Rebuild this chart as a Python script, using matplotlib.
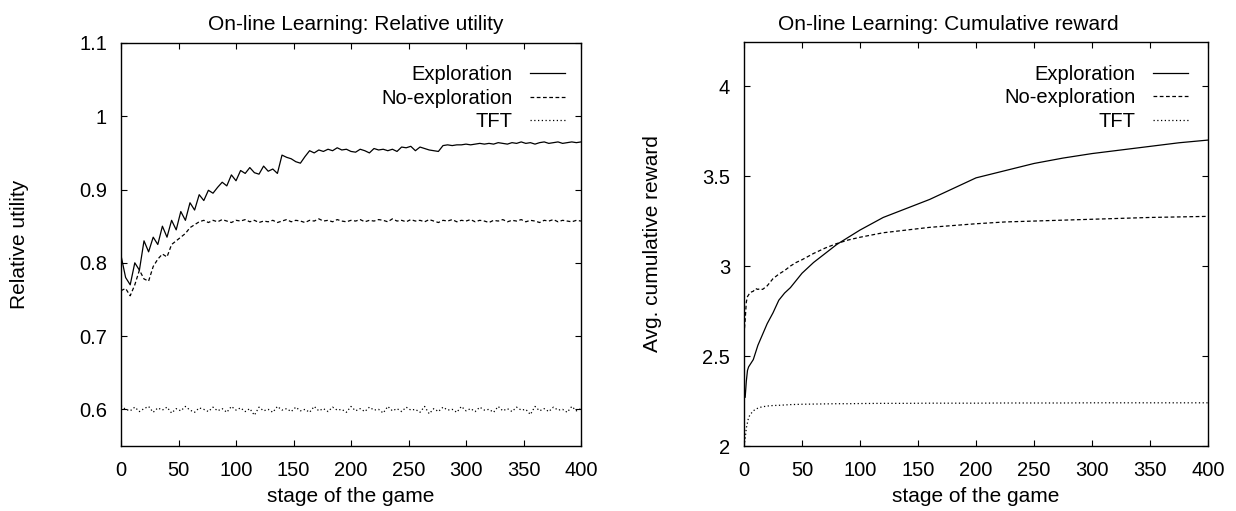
import numpy as np
import matplotlib
matplotlib.use("Agg")
import matplotlib.pyplot as plt

plt.rcParams['font.family'] = ['Liberation Sans', 'DejaVu Sans']

# ---- left panel: relative utility, one value every 4 stages ----
stage_left = np.arange(0, 401, 4)

util_exploration = [
    0.810, 0.780, 0.770, 0.800, 0.790, 0.830, 0.815, 0.835, 0.825, 0.850,
    0.835, 0.858, 0.845, 0.870, 0.858, 0.882, 0.872, 0.893, 0.885, 0.899,
    0.895, 0.903, 0.910, 0.905, 0.920, 0.912, 0.926, 0.922, 0.930, 0.923,
    0.921, 0.932, 0.925, 0.928, 0.922, 0.947, 0.944, 0.942, 0.938, 0.936,
    0.945, 0.953, 0.950, 0.954, 0.952, 0.955, 0.953, 0.957, 0.954, 0.955,
    0.952, 0.951, 0.955, 0.953, 0.950, 0.956, 0.954, 0.955, 0.953, 0.955,
    0.952, 0.958, 0.957, 0.959, 0.953, 0.958, 0.956, 0.954, 0.953, 0.952,
    0.960, 0.961, 0.960, 0.961, 0.961, 0.962, 0.961, 0.962, 0.963, 0.962,
    0.963, 0.962, 0.964, 0.963, 0.962, 0.964, 0.963, 0.965, 0.963, 0.964,
    0.962, 0.964, 0.965, 0.963, 0.964, 0.965, 0.963, 0.964, 0.965, 0.964,
    0.965,
]

util_no_exploration = [
    0.762, 0.765, 0.755, 0.770, 0.790, 0.778, 0.775, 0.795, 0.805, 0.812,
    0.808, 0.825, 0.830, 0.835, 0.840, 0.848, 0.852, 0.856, 0.858, 0.855,
    0.858, 0.856, 0.859, 0.857, 0.855, 0.858, 0.857, 0.859, 0.856, 0.858,
    0.855, 0.857, 0.856, 0.858, 0.855, 0.857, 0.859, 0.856, 0.858, 0.857,
    0.855, 0.858, 0.857, 0.860, 0.857, 0.858, 0.856, 0.859, 0.857, 0.856,
    0.858, 0.857, 0.859, 0.856, 0.858, 0.857, 0.859, 0.858, 0.856, 0.860,
    0.857, 0.858, 0.856, 0.859, 0.857, 0.858, 0.856, 0.859, 0.857, 0.855,
    0.858, 0.857, 0.859, 0.856, 0.858, 0.857, 0.859, 0.856, 0.858, 0.857,
    0.855, 0.858, 0.857, 0.859, 0.856, 0.858, 0.857, 0.859, 0.856, 0.858,
    0.857, 0.855, 0.858, 0.857, 0.859, 0.856, 0.858, 0.857, 0.856, 0.858,
    0.857,
]

util_tft = [
    0.605, 0.600, 0.598, 0.603, 0.597, 0.601, 0.604, 0.596, 0.602, 0.599,
    0.603, 0.595, 0.601, 0.598, 0.604, 0.599, 0.596, 0.602, 0.600, 0.597,
    0.603, 0.598, 0.601, 0.596, 0.604, 0.599, 0.602, 0.597, 0.601, 0.592,
    0.603, 0.598, 0.600, 0.596, 0.604, 0.599, 0.601, 0.597, 0.603, 0.598,
    0.600, 0.596, 0.604, 0.598, 0.601, 0.597, 0.603, 0.599, 0.600, 0.596,
    0.604, 0.598, 0.601, 0.597, 0.603, 0.599, 0.600, 0.595, 0.604, 0.598,
    0.601, 0.597, 0.603, 0.599, 0.600, 0.596, 0.604, 0.594, 0.601, 0.597,
    0.603, 0.599, 0.600, 0.596, 0.604, 0.598, 0.601, 0.597, 0.603, 0.599,
    0.600, 0.596, 0.604, 0.598, 0.601, 0.597, 0.603, 0.599, 0.600, 0.593,
    0.604, 0.598, 0.601, 0.597, 0.603, 0.599, 0.600, 0.596, 0.604, 0.598,
    0.601,
]

# ---- right panel: average cumulative reward ----
stage_right = [0, 1, 2, 3, 4, 5, 6, 8, 10, 12, 14, 16, 18, 20, 25, 30, 35, 40,
               45, 50, 60, 70, 80, 90, 100, 120, 140, 160, 180, 200, 225, 250,
               275, 300, 325, 350, 375, 400]

reward_exploration = [2.33, 2.27, 2.36, 2.42, 2.44, 2.45, 2.46, 2.48, 2.52, 2.56,
                      2.59, 2.62, 2.65, 2.68, 2.74, 2.81, 2.85, 2.88, 2.92, 2.96,
                      3.02, 3.07, 3.12, 3.16, 3.20, 3.27, 3.32, 3.37, 3.43, 3.49,
                      3.53, 3.57, 3.60, 3.625, 3.645, 3.665, 3.685, 3.70]

reward_no_exploration = [2.62, 2.70, 2.80, 2.83, 2.84, 2.85, 2.855, 2.86, 2.875, 2.87,
                         2.875, 2.87, 2.88, 2.89, 2.93, 2.955, 2.975, 3.00, 3.02, 3.035,
                         3.07, 3.10, 3.125, 3.145, 3.16, 3.185, 3.20, 3.215, 3.225, 3.235,
                         3.245, 3.25, 3.255, 3.26, 3.265, 3.27, 3.273, 3.276]

reward_tft = [2.00, 2.04, 2.10, 2.13, 2.16, 2.17, 2.18, 2.195, 2.205, 2.21,
              2.215, 2.218, 2.22, 2.222, 2.225, 2.226, 2.228, 2.23, 2.231, 2.232,
              2.233, 2.234, 2.235, 2.235, 2.236, 2.237, 2.237, 2.238, 2.238, 2.238,
              2.239, 2.239, 2.239, 2.24, 2.24, 2.24, 2.24, 2.24]

fig = plt.figure(figsize=(12.36, 5.11), dpi=100)
ax1 = fig.add_axes([121/1236, 1 - 446/511, 460/1236, 403/511])
ax2 = fig.add_axes([744/1236, 1 - 446/511, 464/1236, 404/511])

lw = 0.9
ax1.plot(stage_left, util_exploration, color='black', lw=lw, label='Exploration')
ax1.plot(stage_left, util_no_exploration, color='black', lw=lw, ls=(0, (3, 2)), label='No-exploration')
ax1.plot(stage_left, util_tft, color='black', lw=lw, ls=(0, (1, 2)), label='TFT')
ax1.set_xlim(0, 400)
ax1.set_ylim(0.55, 1.1)
ax1.set_yticks([0.6, 0.7, 0.8, 0.9, 1.0, 1.1])
ax1.set_yticklabels(['0.6', '0.7', '0.8', '0.9', '1', '1.1'])
ax1.set_ylabel('Relative utility', fontsize=15)
ax1.yaxis.set_label_coords(-0.200, 0.5)

ax2.plot(stage_right, reward_exploration, color='black', lw=lw, label='Exploration')
ax2.plot(stage_right, reward_no_exploration, color='black', lw=lw, ls=(0, (3, 2)), label='No-exploration')
ax2.plot(stage_right, reward_tft, color='black', lw=lw, ls=(0, (1, 2)), label='TFT')
ax2.set_xlim(0, 400)
ax2.set_ylim(2, 4.245)
ax2.set_yticks([2, 2.5, 3, 3.5, 4])
ax2.set_yticklabels(['2', '2.5', '3', '3.5', '4'])
ax2.set_ylabel('Avg. cumulative reward', fontsize=15)
ax2.yaxis.set_label_coords(-0.177, 0.5)

legend_anchor = {ax1: (0.965, 0.945), ax2: (0.957, 0.943)}
for ax in (ax1, ax2):
    ax.set_xticks(range(0, 401, 50))
    ax.set_xlabel('stage of the game', fontsize=15)
    ax.xaxis.set_label_coords(0.5, -0.102)
    ax.tick_params(direction='in', top=True, right=True, length=4, width=0.8,
                   labelsize=14.5)
    ax.tick_params(axis='x', pad=11)
    ax.tick_params(axis='y', pad=10)
    for sp in ax.spines.values():
        sp.set_linewidth(1.0)
    ax.legend(loc='upper right', bbox_to_anchor=legend_anchor[ax], frameon=False,
              markerfirst=False, fontsize=14.5, handlelength=1.75, labelspacing=0.22,
              handletextpad=0.85, borderaxespad=0, borderpad=0)

fig.text(356/1236, 1 - 24/511, 'On-line Learning: Relative utility',
         ha='center', va='center', fontsize=15)
fig.text(948/1236, 1 - 24/511, 'On-line Learning: Cumulative reward',
         ha='center', va='center', fontsize=15)

fig.savefig('out.png', dpi=100)
